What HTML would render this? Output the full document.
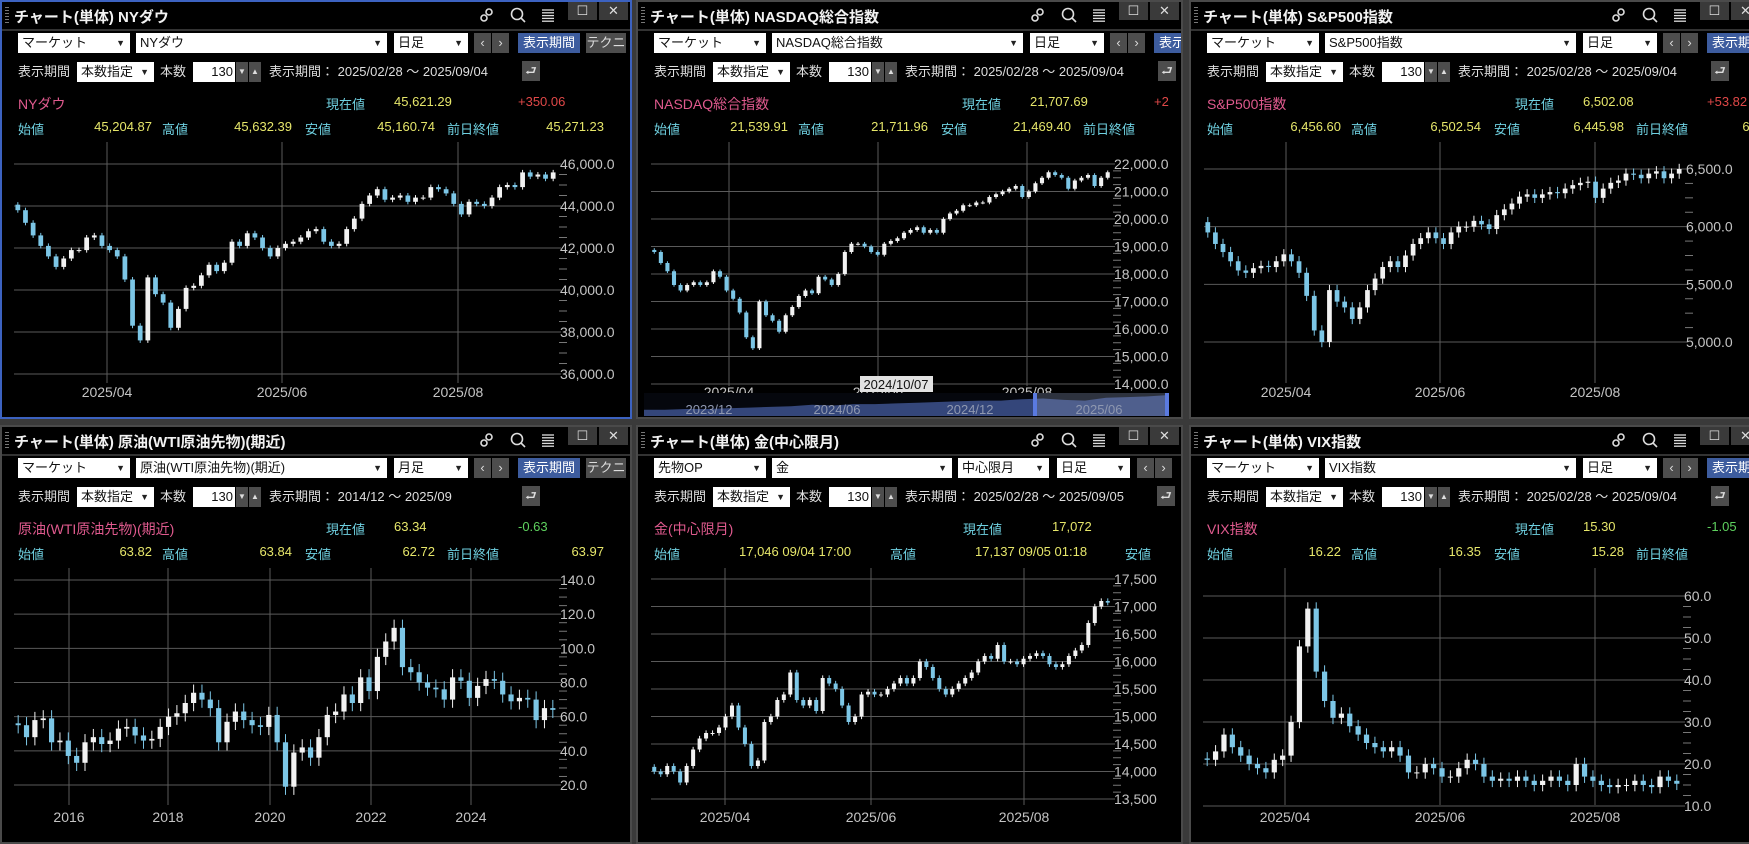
<!DOCTYPE html>
<html><head><meta charset="utf-8">
<style>
html,body{margin:0;padding:0;}
body{width:1749px;height:844px;background:#3a3a3a;position:relative;overflow:hidden;font-family:"Liberation Sans","Noto Sans CJK JP",sans-serif;}
.panel{position:absolute;background:#000;overflow:hidden;box-sizing:border-box;border:2px solid #4a4a4a;}
.panel.sel{border-color:#3c62c0;}
.abs{position:absolute;white-space:nowrap;}
.title{font-weight:bold;color:#f2f2f2;font-size:15px;top:4px;left:12px;}
.grip{left:3px;top:5px;width:4px;height:18px;background:repeating-linear-gradient(#777 0 1px,transparent 1px 3px);}
.tbar{left:0;top:0;right:0;height:27px;border-bottom:2px solid #333;}
.wbtn{top:0;width:29px;height:18px;background:#3a3a3a;color:#ddd;font-size:13px;text-align:center;line-height:17px;}
.sel-box{height:20px;background:#fff;color:#111;font-size:13px;line-height:20px;padding-left:4px;box-sizing:border-box;}
.sel-box .arr{position:absolute;right:5px;top:0;font-size:9px;color:#222;}
.gbtn{background:#4d4d4d;color:#ddd;font-size:13px;text-align:center;line-height:20px;height:20px;}
.blue{background:#3d5c9e;color:#fff;}
.lbl{color:#dedede;font-size:13px;line-height:20px;}
.pink{color:#e05a8e;font-size:14px;}
.cyan{color:#6fd0e0;font-size:13px;}
.yel{color:#e6e66a;font-size:13px;}
.red{color:#e04848;font-size:13px;}
.grn{color:#5ed05e;font-size:13px;}
svg text{font-family:"Liberation Sans",sans-serif;}
</style></head>
<body>
<script>
// ---------- DATA ----------
const nyCloses=[43800,43200,42600,42100,41600,41100,41500,41900,41900,42500,42600,42100,41900,41600,40500,38300,37600,40600,39800,39400,38200,39100,40100,40200,40700,41200,40900,41300,42300,42100,42700,42500,42000,41600,42000,42200,42300,42500,42800,42900,42300,42100,42200,42900,43400,44100,44500,44800,44300,44400,44500,44200,44400,44400,44900,44800,44600,44100,43600,44200,44100,44000,44400,44900,45000,44900,45600,45400,45500,45300,45600];
const nyTicks=[36000,38000,40000,42000,44000,46000];
const nyTickLabels=['36,000.0','38,000.0','40,000.0','42,000.0','44,000.0','46,000.0'];
const ndCloses=[18800,18400,18100,17600,17400,17600,17700,17600,17700,18100,17900,17400,17100,16600,15700,15300,17000,16500,16300,15900,16500,16800,17200,17400,17300,17900,17800,17600,18000,18800,19100,19100,19000,18800,18700,19100,19200,19300,19500,19600,19700,19500,19600,19500,20000,20200,20300,20500,20500,20600,20600,20800,20900,21000,21100,21200,20800,21000,21300,21500,21700,21600,21500,21100,21400,21500,21600,21200,21500,21700];
const ndTicks=[14000,15000,16000,17000,18000,19000,20000,21000,22000];
const ndTickLabels=['14,000.0','15,000.0','16,000.0','17,000.0','18,000.0','19,000.0','20,000.0','21,000.0','22,000.0'];
const ndNavValues=[9,9,10,10,11,12,13,14,16,15,17,17,18,19,20,21,22,22,24,25,23,22,26,27,28,30];
const spCloses=[5950,5850,5780,5700,5620,5600,5640,5660,5650,5700,5760,5700,5600,5400,5100,5000,5450,5350,5300,5200,5300,5450,5550,5650,5700,5650,5750,5850,5900,5950,5900,5850,5950,6000,6000,6050,6020,5980,6100,6150,6200,6260,6280,6250,6280,6300,6290,6330,6360,6380,6390,6250,6330,6380,6400,6460,6450,6420,6460,6480,6420,6460,6500];
const spTicks=[5000,5500,6000,6500];
const spTickLabels=['5,000.0','5,500.0','6,000.0','6,500.0'];
const oilCloses=[55,48,58,59,45,46,37,33,45,48,44,46,53,54,49,46,47,54,60,62,68,74,70,65,45,57,63,58,55,54,61,45,19,39,42,36,48,61,63,73,68,83,75,95,104,112,89,86,80,77,76,70,83,81,71,78,82,81,73,69,71,70,58,65,64];
const oilTicks=[20,40,60,80,100,120,140];
const oilTickLabels=['20.0','40.0','60.0','80.0','100.0','120.0','140.0'];
const goldCloses=[14000,13950,14100,14000,13800,14100,14400,14600,14700,14700,14800,15000,15200,14800,14500,14100,14200,14900,15000,15300,15400,15800,15300,15200,15300,15100,15700,15600,15500,15200,14900,15000,15400,15450,15400,15400,15500,15600,15700,15600,15700,16000,15900,15700,15500,15400,15500,15600,15700,15800,16000,16100,16050,16300,16000,16000,15950,16050,16100,16150,16100,15950,15900,15950,16100,16200,16300,16700,17000,17100,17070];
const goldTicks=[13500,14000,14500,15000,15500,16000,16500,17000,17500];
const goldTickLabels=['13,500','14,000','14,500','15,000','15,500','16,000','16,500','17,000','17,500'];
const vixCloses=[21,23,27,24,22,20,19,18,21,22,30,48,57,42,35,31,32,29,27,25,24,23,24,22,18,18,20,19,17,17,19,21,20,17,16,16.5,16,17,16,15,16,17,16,15,20,17,16,15,14.5,15,15,16,15,14.5,17,16,15.3];
const vixTicks=[10,20,30,40,50,60];
const vixTickLabels=['10.0','20.0','30.0','40.0','50.0','60.0'];
const dailyDateLabels=['2025/04','2025/06','2025/08'];
const oilDateLabels=['2016','2018','2020','2022','2024'];
const navLabels=['2023/12','2024/06','2024/12','2025/06'];
</script>
<script>
const NS='http://www.w3.org/2000/svg';
function div(parent,cls,text,name,inter,l,t,w){
  const e=document.createElement('div');
  e.className='abs '+cls;
  
  
  if(text!==null)e.textContent=text;
  e.style.left=l+'px';e.style.top=t+'px';
  if(w)e.style.width=w+'px';
  parent.appendChild(e);return e;
}
function sv(parent,tag,attrs){const e=document.createElementNS(NS,tag);for(const k in attrs)e.setAttribute(k,attrs[k]);parent.appendChild(e);return e;}
function selectBox(p,l,t,w,text,name){
  const s=div(p,'sel-box',text,name,'true',l,t,w);
  const a=document.createElement('span');a.className='arr';a.textContent='▼';s.appendChild(a);
  return s;
}
function makePanel(c){
  const p=document.createElement('div');
  p.className='panel'+(c.sel?' sel':'');
  
  
  p.style.left=c.L+'px';p.style.top=c.T+'px';p.style.width=c.W+'px';p.style.height=c.H+'px';
  document.body.appendChild(p);
  div(p,'tbar',null,'title-bar','false',0,0);
  div(p,'grip',null,'drag-grip','true',3,5);
  div(p,'title',c.title,'panel-title','false',12,4);
  const ic=document.createElementNS(NS,'svg');
  
  
  ic.setAttribute('width','100');ic.setAttribute('height','26');
  ic.style.cssText='position:absolute;top:0;left:'+(c.W-156)+'px';
  p.appendChild(ic);
  const lk=sv(ic,'g',{stroke:'#ddd','stroke-width':'1.6',fill:'none'});
  
  sv(lk,'circle',{cx:6,cy:16,r:3});sv(lk,'circle',{cx:11,cy:10,r:3});
  const sr=sv(ic,'g',{stroke:'#ddd','stroke-width':'1.6',fill:'none'});
  
  sv(sr,'circle',{cx:39,cy:12,r:5.5});sv(sr,'line',{x1:43,y1:16,x2:47,y2:20});
  const mn=sv(ic,'g',{stroke:'#ddd','stroke-width':'1.3'});
  
  for(let i=0;i<5;i++)sv(mn,'line',{x1:64,x2:76,y1:8+i*2.8,y2:8+i*2.8});
  div(p,'wbtn','☐','maximize-button','true',c.W-66,0);
  div(p,'wbtn','✕','close-button','true',c.W-35,0);
  if(c.gold){
    selectBox(p,16,31,112,'先物OP','category-select');
    selectBox(p,134,31,180,'金','symbol-select');
    selectBox(p,320,31,91,'中心限月','contract-select');
    selectBox(p,419,31,73,'日足','interval-select');
    div(p,'gbtn','‹','prev-button','true',499,31,17);
    div(p,'gbtn','›','next-button','true',517,31,17);
  } else {
    selectBox(p,16,31,112,'マーケット','category-select');
    selectBox(p,134,31,251,c.sym,'symbol-select');
    selectBox(p,392,31,74,c.interval,'interval-select');
    div(p,'gbtn','‹','prev-button','true',472,31,17);
    div(p,'gbtn','›','next-button','true',490,31,17);
    div(p,'gbtn blue','表示期間','display-period-button','true',516,31,62);
    div(p,'gbtn','テクニ','technical-button','true',584,31,40);
  }
  div(p,'lbl','表示期間','period-label','false',16,60);
  selectBox(p,75,60,77,'本数指定','period-mode-select');
  div(p,'lbl','本数','count-label','false',158,60);
  const inp=div(p,'sel-box','130','count-input','true',191,60,42);inp.style.textAlign='right';inp.style.paddingRight='2px';
  div(p,'gbtn','▼','count-down','true',234,60,12).style.fontSize='8px';
  div(p,'gbtn','▲','count-up','true',247,60,12).style.fontSize='8px';
  div(p,'lbl','表示期間：  '+c.range,'period-range','false',267,60);
  div(p,'gbtn','⮐','reset-button','true',c.gold?519:520,59,18);
  div(p,'pink',c.label,'instrument-name','false',16,92);
  div(p,'cyan','現在値','current-label','false',c.gold?325:324,92);
  div(p,'yel',c.cur,'current-value','false',c.gold?414:392,92);
  if(c.chg)div(p,c.chg[0]==='+'?'red':'grn',c.chg,'change-value','false',516,92);
  if(c.gold){
    div(p,'cyan','始値','open-label','false',16,117);
    div(p,'yel','17,046  09/04  17:00','open-value','false',101,117);
    div(p,'cyan','高値','high-label','false',252,117);
    div(p,'yel','17,137  09/05  01:18','high-value','false',337,117);
    div(p,'cyan','安値','low-label','false',487,117);
  } else {
    const lab=['始値','高値','安値','前日終値'],nm=['open','high','low','prev-close'],lx=[16,160,303,445],ve=[150,290,433,602];
    for(let i=0;i<4;i++){
      div(p,'cyan',lab[i],nm[i]+'-label','false',lx[i],117);
      const v=div(p,'yel',c.ohlc[i],nm[i]+'-value','false',ve[i]-90,117,90);v.style.textAlign='right';
    }
  }
  const s=document.createElementNS(NS,'svg');
  
  
  s.setAttribute('width',c.W);s.setAttribute('height',c.H);
  s.style.cssText='position:absolute;left:-2px;top:-2px';
  p.appendChild(s);
  const ch=c.chart, vals=ch.closes, ticks=ch.ticks, n=vals.length;
  const yOf=v=>ch.y0+(v-ch.v0)*(ch.y1-ch.y0)/(ch.v1-ch.v0);
  const step=(ch.x1-ch.x0)/n;
  const xOf=i=>ch.x0+(i+0.5)*step;
  const lowV=ticks[0], hiV=ticks[ticks.length-1];
  for(let i=0;i<ticks.length;i++){
    const y=yOf(ticks[i]);
    const g=sv(s,'line',{x1:ch.x0,x2:ch.x1+4,y1:y,y2:y,stroke:'#5a5a5a','stroke-width':1});
    
    const t=sv(s,'text',{x:ch.x1+3,y:y+5,fill:'#c4c4c4','font-size':14});
    t.textContent=ch.tickLabels[i];
    
    if(i<ticks.length-1){
      for(let k=1;k<4;k++){
        const my=yOf(ticks[i]+(ticks[i+1]-ticks[i])*k/4);
        sv(s,'line',{x1:ch.x1+2,x2:ch.x1+10,y1:my,y2:my,stroke:'#777','stroke-width':1});
      }
    }
  }
  for(let i=0;i<ch.dates.length;i++){
    const x=ch.dateX[i];
    const g=sv(s,'line',{x1:x,x2:x,y1:ch.vTop,y2:ch.vBot,stroke:'#5a5a5a','stroke-width':1});
    
    const t=sv(s,'text',{x:x,y:ch.labY+5,fill:'#c4c4c4','font-size':14,'text-anchor':'middle'});
    t.textContent=ch.dates[i];
    
  }
  const bw=Math.max(2,step*0.62), wk=ch.wick*(hiV-lowV);
  for(let i=0;i<n;i++){
    const o=i===0?vals[0]*(1+ch.wick*0.5):vals[i-1], cl=vals[i];
    const up=cl>=o, col=up?'#f2f2f2':'#7cc6e6';
    const hi=Math.max(o,cl)+wk, lo=Math.min(o,cl)-wk;
    const x=xOf(i);
    const w=sv(s,'line',{x1:x,x2:x,y1:yOf(hi),y2:yOf(lo),stroke:col,'stroke-width':1});
    
    const yt=yOf(Math.max(o,cl)), yb=yOf(Math.min(o,cl));
    const r=sv(s,'rect',{x:x-bw/2,y:yt,width:bw,height:Math.max(1,yb-yt),fill:col});
    
  }
  if(ch.nav){
    const nv=ch.nav, nx0=8, nx1=533, ny0=393, ny1=416;
    const bg=sv(s,'rect',{x:nx0,y:ny0,width:nx1-nx0,height:ny1-ny0,fill:'#05070d'});
    
    let d='M'+nx0+' '+ny1;
    const nvMax=30;
    for(let i=0;i<nv.length;i++){const x=nx0+i*(nx1-nx0)/(nv.length-1);d+=' L'+x.toFixed(1)+' '+(ny1-nv[i]/nvMax*(ny1-ny0-2)).toFixed(1);}
    d+=' L'+nx1+' '+ny1+' Z';
    sv(s,'path',{d:d,fill:'#34467a'});
    const selr=sv(s,'rect',{x:399,y:ny0,width:132,height:ny1-ny0,fill:'rgba(150,160,190,0.28)'});
    
    sv(s,'rect',{x:397,y:ny0,width:4,height:ny1-ny0,fill:'#5a7ae0'});
    sv(s,'rect',{x:529,y:ny0,width:4,height:ny1-ny0,fill:'#5a7ae0'});
    const lx=[73,201,334,463];
    for(let i=0;i<navLabels.length;i++){
      const t=sv(s,'text',{x:lx[i],y:414,fill:'#8f98b0','font-size':13,'text-anchor':'middle'});
      t.textContent=navLabels[i];
      
    }
    sv(s,'rect',{x:224,y:376,width:73,height:16,fill:'#e2e2e2'});
    const tt=sv(s,'text',{x:260,y:389,fill:'#111','font-size':13,'text-anchor':'middle'});
    tt.textContent='2024/10/07';
    
  }
}
const topCfg={vTop:142,vBot:383,labY:392};
const botCfg={vTop:143,vBot:380,labY:392};
makePanel({name:'ny-dow',L:0,T:0,W:632,H:419,sel:true,title:'チャート(単体) NYダウ',sym:'NYダウ',interval:'日足',range:'2025/02/28 ～ 2025/09/04',label:'NYダウ',cur:'45,621.29',chg:'+350.06',ohlc:['45,204.87','45,632.39','45,160.74','45,271.23'],
 chart:Object.assign({closes:nyCloses,ticks:nyTicks,tickLabels:nyTickLabels,v0:36000,y0:374,v1:46000,y1:164,x0:14,x1:557,wick:0.012,dates:dailyDateLabels,dateX:[107,282,458]},topCfg)});
makePanel({name:'nasdaq',L:636,T:0,W:547,H:419,title:'チャート(単体) NASDAQ総合指数',sym:'NASDAQ総合指数',interval:'日足',range:'2025/02/28 ～ 2025/09/04',label:'NASDAQ総合指数',cur:'21,707.69',chg:'+2',ohlc:['21,539.91','21,711.96','21,469.40',''],
 chart:Object.assign({closes:ndCloses,ticks:ndTicks,tickLabels:ndTickLabels,v0:14000,y0:384,v1:22000,y1:164,x0:15,x1:475,wick:0.008,dates:dailyDateLabels,dateX:[93,242,391],nav:ndNavValues},topCfg,{vBot:386})});
makePanel({name:'sp500',L:1189,T:0,W:575,H:419,title:'チャート(単体) S&P500指数',sym:'S&P500指数',interval:'日足',range:'2025/02/28 ～ 2025/09/04',label:'S&P500指数',cur:'6,502.08',chg:'+53.82',ohlc:['6,456.60','6,502.54','6,445.98','6,448.26'],
 chart:Object.assign({closes:spCloses,ticks:spTicks,tickLabels:spTickLabels,v0:5000,y0:342,v1:6500,y1:169,x0:15,x1:494,wick:0.03,dates:dailyDateLabels,dateX:[97,251,406]},topCfg)});
makePanel({name:'wti-oil',L:0,T:425,W:632,H:419,title:'チャート(単体) 原油(WTI原油先物)(期近)',sym:'原油(WTI原油先物)(期近)',interval:'月足',range:'2014/12 ～ 2025/09',label:'原油(WTI原油先物)(期近)',cur:'63.34',chg:'-0.63',ohlc:['63.82','63.84','62.72','63.97'],
 chart:Object.assign({closes:oilCloses,ticks:oilTicks,tickLabels:oilTickLabels,v0:20,y0:360,v1:140,y1:155,x0:14,x1:557,wick:0.04,dates:oilDateLabels,dateX:[69,168,270,371,471]},botCfg)});
makePanel({name:'gold',L:636,T:425,W:547,H:419,gold:true,title:'チャート(単体) 金(中心限月)',range:'2025/02/28 ～ 2025/09/05',label:'金(中心限月)',cur:'17,072',chg:null,
 chart:Object.assign({closes:goldCloses,ticks:goldTicks,tickLabels:goldTickLabels,v0:13500,y0:374,v1:17500,y1:154,x0:15,x1:475,wick:0.012,dates:dailyDateLabels,dateX:[89,235,388]},botCfg)});
makePanel({name:'vix',L:1189,T:425,W:575,H:419,title:'チャート(単体) VIX指数',sym:'VIX指数',interval:'日足',range:'2025/02/28 ～ 2025/09/04',label:'VIX指数',cur:'15.30',chg:'-1.05',ohlc:['16.22','16.35','15.28','16.35'],
 chart:Object.assign({closes:vixCloses,ticks:vixTicks,tickLabels:vixTickLabels,v0:10,y0:381,v1:60,y1:171,x0:14,x1:492,wick:0.03,dates:dailyDateLabels,dateX:[96,251,406]},botCfg)});
</script>
</body></html>
